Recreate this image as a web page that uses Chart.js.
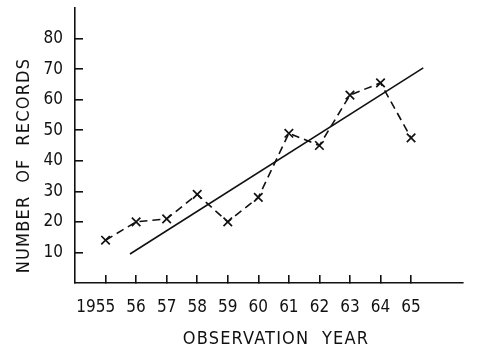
<!DOCTYPE html>
<html>
<head>
<meta charset="utf-8">
<script src="https://cdn.jsdelivr.net/npm/chart.js@4/dist/chart.umd.min.js"></script>
<style>
  html, body { margin: 0; padding: 0; background: #fff; }
  #wrap { width: 478px; height: 349px; }
</style>
</head>
<body>
<div id="wrap"><canvas id="c" width="478" height="349"></canvas></div>
<script>
// Yearly counts of records (crosses joined by a dashed line)
const years = [1955, 1956, 1957, 1958, 1959, 1960, 1961, 1962, 1963, 1964, 1965];
const records = [14, 20, 21, 29, 20, 28, 49, 45, 61.5, 65.5, 47.5];

// Fitted linear trend, end points
const trendYears = [1955.8, 1965.4];
const trendRecords = [9.5, 70.4];

// Axis ticks
const xTickYears = [1955, 1956, 1957, 1958, 1959, 1960, 1961, 1962, 1963, 1964, 1965];
const xTickLabels = ['1955', '56', '57', '58', '59', '60', '61', '62', '63', '64', '65'];
const yTickValues = [10, 20, 30, 40, 50, 60, 70, 80];

const xTitle = 'OBSERVATION  YEAR';
const yTitle = 'NUMBER  OF  RECORDS';

const FONT = '"DejaVu Sans Condensed", "Liberation Sans Narrow", "Liberation Sans", sans-serif';
const INK = '#111';

// Tick labels along the year axis: the last two digits sit on the tick,
// so "1955" hangs its century to the left.
// Axis titles are drawn here as well.
const axisText = {
  id: 'axisText',
  afterDraw(chart) {
    const ctx = chart.ctx;
    const area = chart.chartArea;
    const xs = chart.scales.x;
    ctx.save();
    ctx.fillStyle = INK;
    ctx.font = '17px ' + FONT;
    ctx.textBaseline = 'middle';
    ctx.textAlign = 'right';
    xTickYears.forEach((yr, i) => {
      const label = xTickLabels[i];
      const px = xs.getPixelForValue(yr);
      const half = ctx.measureText(label.slice(-2)).width / 2;
      ctx.fillText(label, px + half, area.bottom + 25);
    });

    ctx.textAlign = 'center';
    ctx.font = '18px ' + FONT;
    ctx.letterSpacing = '1.2px';
    ctx.fillText(xTitle, (area.left + area.right) / 2 + 7, chart.height - 10);

    ctx.translate(24, (area.top + area.bottom) / 2 + 20);
    ctx.rotate(-Math.PI / 2);
    ctx.font = '18px ' + FONT;
    ctx.letterSpacing = '1.2px';
    ctx.fillText(yTitle, 0, 0);
    ctx.restore();
  }
};

new Chart(document.getElementById('c'), {
  type: 'line',
  data: {
    datasets: [
      {
        label: 'Records',
        data: years.map((yr, i) => ({ x: yr, y: records[i] })),
        borderColor: INK,
        borderWidth: 1.6,
        borderDash: [8, 5],
        tension: 0,
        fill: false,
        pointStyle: 'crossRot',
        pointRadius: 6,
        pointBorderWidth: 1.7,
        pointBorderColor: INK,
        pointBackgroundColor: INK
      },
      {
        label: 'Trend',
        data: trendYears.map((yr, i) => ({ x: yr, y: trendRecords[i] })),
        borderColor: INK,
        borderWidth: 1.6,
        tension: 0,
        fill: false,
        pointRadius: 0
      }
    ]
  },
  options: {
    responsive: false,
    animation: false,
    devicePixelRatio: 1,
    layout: { padding: { left: 0, top: 8, right: 15, bottom: 0 } },
    plugins: {
      legend: { display: false },
      tooltip: { enabled: false }
    },
    scales: {
      x: {
        type: 'linear',
        min: 1954,
        max: 1966.7,
        afterBuildTicks: (s) => { s.ticks = xTickYears.map(v => ({ value: v })); },
        afterFit: (s) => { s.height = 66; s.paddingLeft = 0; s.paddingRight = 0; },
        border: { display: true, color: INK, width: 1.6 },
        grid: {
          drawOnChartArea: false,
          drawTicks: true,
          tickLength: -8,
          color: INK,
          lineWidth: 1.6
        },
        ticks: { display: false }
      },
      y: {
        type: 'linear',
        min: 0,
        max: 90,
        afterBuildTicks: (s) => { s.ticks = yTickValues.map(v => ({ value: v })); },
        afterFit: (s) => { s.width = 75; s.paddingTop = 0; s.paddingBottom = 0; },
        border: { display: true, color: INK, width: 1.6 },
        grid: {
          drawOnChartArea: false,
          drawTicks: true,
          tickLength: -8,
          color: INK,
          lineWidth: 1.6
        },
        ticks: {
          color: INK,
          padding: 20,
          font: { family: FONT, size: 17 }
        }
      }
    }
  },
  plugins: [axisText]
});
</script>
</body>
</html>
